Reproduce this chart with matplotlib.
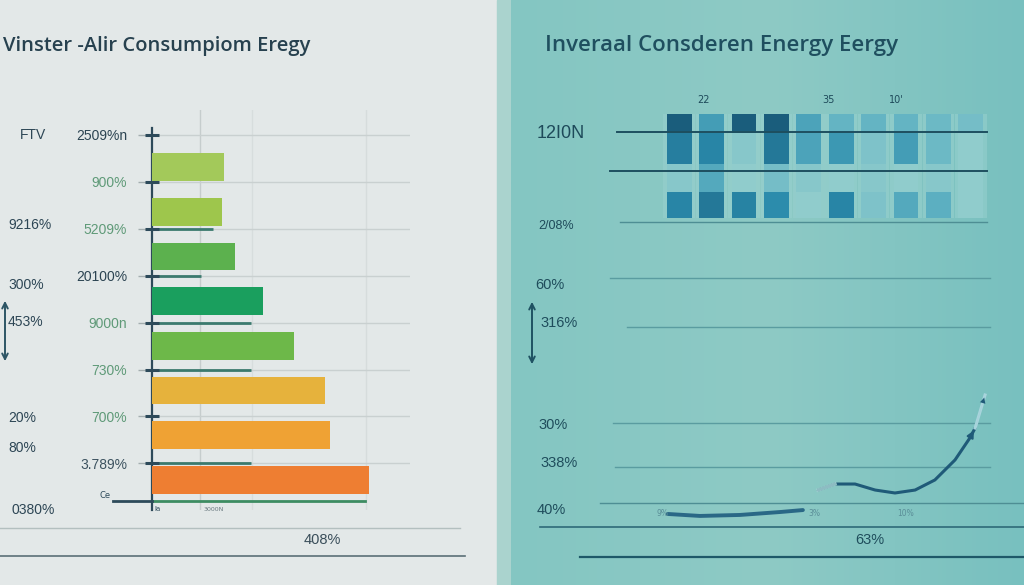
import numpy as np
import matplotlib
matplotlib.use("Agg")
import matplotlib.pyplot as plt
from matplotlib.colors import LinearSegmentedColormap

# ---------------- data ----------------
left_title = "Vinster -Alir Consumpiom Eregy"
right_title = "Inveraal Consderen Energy Eergy"

bar_values = [28, 27, 32, 43, 55, 67, 69, 84]
bar_colors = ["#a3c95a", "#9ec64c", "#5cb14e", "#1a9f5e",
              "#6db849", "#e6b23c", "#efa234", "#ee7e32"]

grid_labels = ["2509%n", "900%", "5209%", "20100%", "9000n", "730%", "700%", "3.789%"]
grid_label_colors = ["#2c4452", "#5f9a78", "#5f9a78", "#2c4452",
                     "#5f9a78", "#5f9a78", "#5f9a78", "#3d5360"]

left_side_labels = ["FTV", "9216%", "300%", "453%", "20%", "80%", "0380%"]
left_bottom_label = "408%"

heat_values = np.array([
    # top row, upper-middle, lower-middle, bottom row
    [1.00, 0.75, 0.10, 0.70],
    [0.50, 0.70, 0.40, 0.80],
    [1.00, 0.10, 0.05, 0.72],
    [1.00, 0.80, 0.20, 0.65],
    [0.45, 0.45, 0.10, 0.05],
    [0.30, 0.55, 0.05, 0.70],
    [0.30, 0.15, 0.10, 0.15],
    [0.30, 0.50, 0.05, 0.40],
    [0.25, 0.25, 0.10, 0.35],
    [0.20, 0.05, 0.05, 0.05],
])
heat_top_labels = ["22", "35", "10'"]

right_labels_upper = ["12I0N", "2/08%"]
right_labels_lower = ["60%", "316%", "30%", "338%", "40%"]
right_bottom_label = "63%"
line_tick_labels = ["9%", "3%", "10%"]

line1_x = [2.4, 12.1, 24.2, 36.4, 43.3]
line1_y = [4.3, 2.9, 3.6, 5.7, 7.1]
line2_x = [47.9, 53.0, 59.1, 65.2, 71.2, 77.3, 83.3, 89.4, 93.9, 95.5]
line2_y = [21.4, 25.7, 25.7, 21.4, 19.3, 21.4, 28.6, 42.9, 58.6, 65.7]
line3_x = [95.5, 98.5]
line3_y = [65.7, 89.3]

# ---------------- figure ----------------
W, H = 1024, 585
fig = plt.figure(figsize=(W / 100, H / 100), dpi=100)

def px_axes(x0, y0, x1, y1, z=1):
    ax = fig.add_axes([x0 / W, 1 - y1 / H, (x1 - x0) / W, (y1 - y0) / H], zorder=z)
    ax.patch.set_alpha(0)
    return ax

FONT = ["Open Sans", "DejaVu Sans"]
LFONT = ["Liberation Sans", "DejaVu Sans"]
DARK = "#27414f"

# background axes in pixel coordinates
bg = px_axes(0, 0, W, H, z=0)
bg.axis("off")
bg.axvspan(0, 497, color="#e3e8e8", zorder=0)
bg.axvspan(497, 511, color="#aad3ce", zorder=0)
grad = np.linspace(0, 1, 256)[None, :]
cmap_bg = LinearSegmentedColormap.from_list("bg", ["#84c6c2", "#8ecac5", "#78c0bf"])
bg.imshow(grad, extent=(511, W, H, 0), cmap=cmap_bg, aspect="auto", zorder=0)
bg.set_xlim(0, W)
bg.set_ylim(H, 0)

# foreground overlay axes in pixel coordinates
fg = px_axes(0, 0, W, H, z=6)
fg.axis("off")
fg.set_xlim(0, W)
fg.set_ylim(H, 0)

# titles
bg.text(3, 46, left_title, fontsize=14.5, color=DARK, family=FONT,
        fontweight="semibold", va="center", ha="left")
bg.text(545, 46, right_title, fontsize=16, color="#1f4f5f", family=FONT,
        fontweight="semibold", va="center", ha="left")

# ---------- left panel decorations ----------
side_y = [135, 225, 285, 322, 418, 448, 510]
side_x = [20, 8, 8, 8, 8, 8, 12]
for lab, x, y in zip(left_side_labels, side_x, side_y):
    bg.text(x, y, lab, fontsize=10, color="#2d4655", family=LFONT,
            va="center", ha="left")
bg.annotate("", xy=(5, 298), xytext=(5, 364),
            arrowprops=dict(arrowstyle="<->", color="#2d5565", lw=1.4))

bg.plot([0, 460], [528, 528], color="#b3bfbf", lw=1)
bg.plot([0, 465], [556, 556], color="#5b6f76", lw=1.2)
bg.text(322, 540, left_bottom_label, fontsize=10.5, color="#3a4e5a",
        family=LFONT, va="center", ha="center")

# ---------- left bar chart ----------
axb = px_axes(152, 110, 410, 510, z=2)
row = 44.7
y_top = -(167 - 110) / row
y_bot = (510 - 167) / row
axb.set_xlim(0, 100)
axb.set_ylim(y_bot, y_top)
pos = np.arange(len(bar_values))
axb.barh(pos, bar_values, height=0.62, color=bar_colors, zorder=3)

grid_pos = (135 - 167) / row + np.arange(len(grid_labels)) * (46.9 / row)
axb.set_yticks(grid_pos)
axb.set_yticklabels(grid_labels, family=LFONT, fontsize=10)
for t, c in zip(axb.get_yticklabels(), grid_label_colors):
    t.set_color(c)
axb.tick_params(axis="y", length=10, width=1, color="#a3adaf", pad=8)
axb.set_xticks([])
axb.grid(axis="y", color="#c9d0d0", lw=1, zorder=1)
for xv, a in [(18.6, 0.9), (38.8, 0.35), (82.9, 0.4)]:
    axb.axvline(xv, color="#c3cbcb", lw=1, alpha=a, zorder=1)
for s in ["top", "right", "bottom"]:
    axb.spines[s].set_visible(False)
axb.spines["left"].set_color("#2d4a5a")
axb.spines["left"].set_linewidth(1.6)
axb.spines["left"].set_bounds((128 - 167) / row, y_bot)
# short dark-green overlay strokes on the grid
for k, length in [(2, 23.6), (3, 19), (4, 38.4), (5, 38.4), (7, 38.4)]:
    axb.plot([0, length], [grid_pos[k], grid_pos[k]], color="#3b7a6e", lw=2, zorder=4,
             solid_capstyle="butt")
axb.plot(np.zeros(len(grid_pos)), grid_pos, ls="none", marker="_", ms=10, mew=2.2,
         color="#2d4a5a", zorder=5, clip_on=False)
base_y = (501 - 167) / row
axb.plot([0, 82.5], [base_y, base_y], color="#3d8c62", lw=2, zorder=4)
axb.plot([-15, 0], [base_y, base_y], color="#2d4a5a", lw=2, zorder=4, clip_on=False)
axb.text(-16, base_y - 0.12, "Ce", fontsize=6, color="#2d4a5a", ha="right", va="center")
axb.text(1, base_y + 0.18, "la", fontsize=5, color="#2d4a5a", va="center")
axb.text(20, base_y + 0.18, "3000N", fontsize=4.5, color="#6a7a80", va="center")

# ---------- right panel decorations ----------
bg.text(537, 133, right_labels_upper[0], fontsize=13, color="#1e4a5a", family=LFONT,
        va="center", ha="left")
bg.text(538, 226, right_labels_upper[1], fontsize=9, color="#1e4a5a", family=LFONT,
        va="center", ha="left")
for lab, x, y in zip(right_labels_lower, [535, 540, 538, 540, 537], [285, 323, 425, 463, 510]):
    bg.text(x, y, lab, fontsize=10.5, color="#1f4d5c", family=LFONT, va="center", ha="left")
bg.annotate("", xy=(532, 299), xytext=(532, 367),
            arrowprops=dict(arrowstyle="<->", color="#1f5262", lw=1.4))
bg.text(870, 540, right_bottom_label, fontsize=10.5, color="#1f4d5c", family=LFONT,
        va="center", ha="center")

for y, x0, x1, c, lw in [(222, 620, 987, "#4e8e94", 1.0), (278, 610, 990, "#5a9ca0", 1.0),
                         (327, 627, 990, "#5a9ca0", 1.0), (423, 613, 990, "#5a9ca0", 1.0),
                         (467, 615, 990, "#5a9ca0", 1.0), (503, 600, 1024, "#4e8e94", 1.0),
                         (527, 540, 1024, "#2e6a78", 1.2), (557, 580, 1024, "#1e5868", 1.6)]:
    bg.plot([x0, x1], [y, y], color=c, lw=lw, zorder=3)
for y, x0, x1 in [(132, 617, 987), (171, 610, 987)]:
    fg.plot([x0, x1], [y, y], color="#1e4f60", lw=1.4)

# ---------- right heatmap ----------
axh = px_axes(663, 105, 987, 222, z=2)
ncol = heat_values.shape[0]
axh.set_xlim(0, ncol)
row_edges = [26, 29, 31, 19]          # bottom to top heights (px)
axh.set_ylim(-4, sum(row_edges) + 9)
axh.axis("off")
cmap_h = LinearSegmentedColormap.from_list("h", ["#98d0ce", "#5eb1c2", "#2a8aab", "#1a5d7c"])
axh.bar(np.arange(ncol) + 0.5, sum(row_edges), width=0.97, bottom=0,
        color="#98d1cf", alpha=0.55, zorder=1)
bottoms = np.concatenate([[0], np.cumsum(row_edges)[:-1]])
for j in range(4):
    vals = heat_values[:, 3 - j]
    axh.bar(np.arange(ncol) + 0.5, row_edges[j], width=0.76, bottom=bottoms[j],
            color=cmap_h(vals), zorder=2)
for lab, x in zip(heat_top_labels, [1.25, 5.1, 7.2]):
    axh.text(x, sum(row_edges) + 9, lab, fontsize=7, color="#1e4a5a", ha="center", va="bottom")

# ---------- right line ----------
axl = px_axes(660, 380, 990, 520, z=3)
axl.set_xlim(0, 100)
axl.set_ylim(0, 100)
axl.axis("off")
axl.plot(line1_x, line1_y, color="#2a6886", lw=2.8, solid_capstyle="round")
axl.plot(line2_x, line2_y, color="#1f5a78", lw=2.2, solid_capstyle="round",
         solid_joinstyle="round")
axl.plot(line2_x[:2], line2_y[:2], color="#a9d6d6", lw=2.6, alpha=0.8)
axl.plot(line3_x, line3_y, color="#a8d4dc", lw=2.2)
axl.annotate("", xy=(line2_x[-1], line2_y[-1]), xytext=(line2_x[-2], line2_y[-2]),
             arrowprops=dict(arrowstyle="-|>", color="#1f5a78", lw=1.5, mutation_scale=10))
axl.annotate("", xy=(line3_x[-1], line3_y[-1]), xytext=(line3_x[0], line3_y[0]),
             arrowprops=dict(arrowstyle="-|>", color="#1f5a78", lw=0.01, mutation_scale=10))
for lab, x in zip(line_tick_labels, [-1, 45, 72]):
    axl.text(x, 5, lab, fontsize=5.5, color="#5a8e98", ha="left", va="center")

fig.savefig("out.png", dpi=100)
